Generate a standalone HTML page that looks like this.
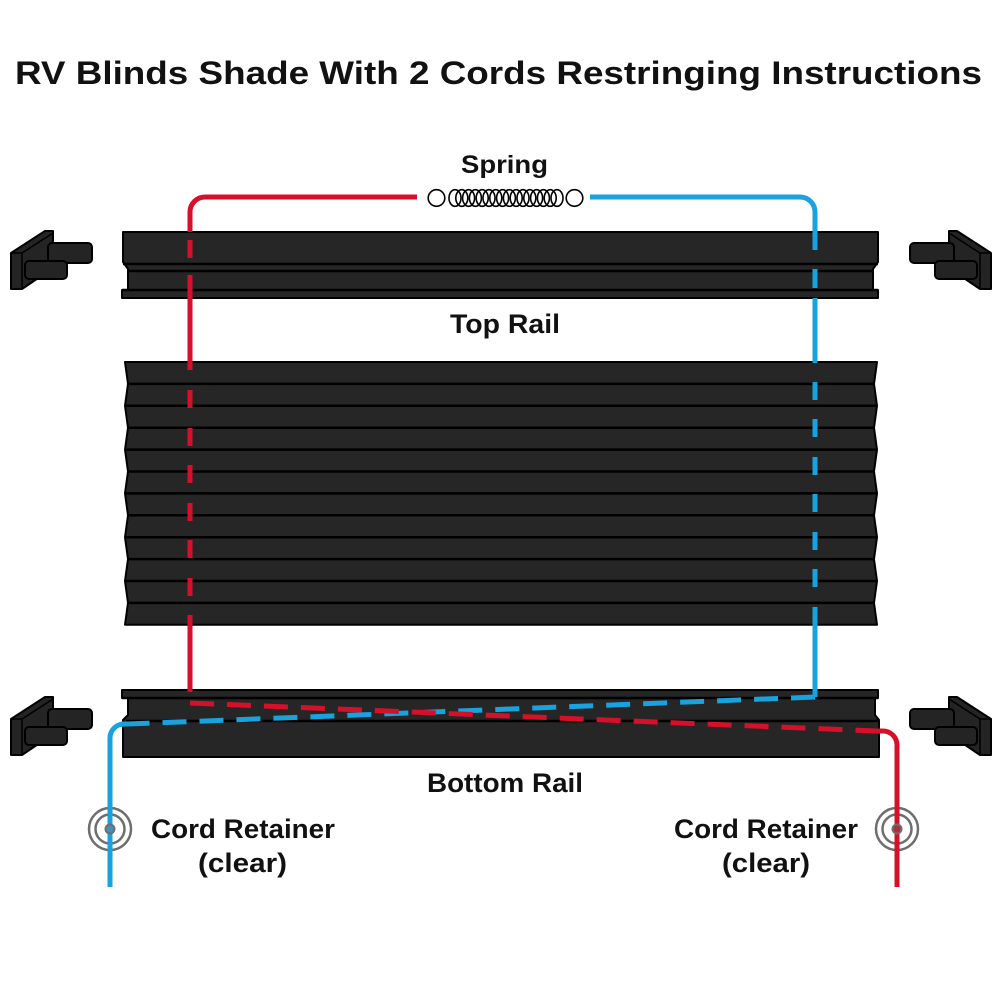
<!DOCTYPE html>
<html>
<head>
<meta charset="utf-8">
<style>
html,body{margin:0;padding:0;background:#fff;}
svg{display:block;}
text{font-family:"Liberation Sans",sans-serif;font-weight:bold;fill:#111;}
</style>
</head>
<body>
<svg width="1000" height="1000" viewBox="0 0 1000 1000" xmlns="http://www.w3.org/2000/svg">
<rect width="1000" height="1000" fill="#fff"/>

<!-- Title -->
<text x="15" y="84" font-size="32" textLength="967" lengthAdjust="spacingAndGlyphs">RV Blinds Shade With 2 Cords Restringing Instructions</text>

<!-- Labels -->
<text x="461" y="173" font-size="25" textLength="87" lengthAdjust="spacingAndGlyphs">Spring</text>
<text x="450" y="333" font-size="27" textLength="110" lengthAdjust="spacingAndGlyphs">Top Rail</text>
<text x="427" y="792" font-size="27" textLength="156" lengthAdjust="spacingAndGlyphs">Bottom Rail</text>
<text x="151" y="838" font-size="27" textLength="184" lengthAdjust="spacingAndGlyphs">Cord Retainer</text>
<text x="198" y="872" font-size="27" textLength="89" lengthAdjust="spacingAndGlyphs">(clear)</text>
<text x="674" y="838" font-size="27" textLength="184" lengthAdjust="spacingAndGlyphs">Cord Retainer</text>
<text x="722" y="872" font-size="27" textLength="88" lengthAdjust="spacingAndGlyphs">(clear)</text>

<!-- Brackets -->
<defs>
  <g id="br">
    <polygon points="11,253 45,231 53,231 53,268 22,289 11,289" fill="#242424" stroke="#000" stroke-width="2" stroke-linejoin="round"/>
    <line x1="22" y1="253" x2="22" y2="289" stroke="#000" stroke-width="1.5"/>
    <line x1="11" y1="253" x2="22" y2="253" stroke="#000" stroke-width="1.5"/>
    <line x1="22" y1="253" x2="53" y2="233" stroke="#000" stroke-width="1.5"/>
    <rect x="48" y="243" width="44" height="20" rx="4" fill="#242424" stroke="#000" stroke-width="2"/>
    <rect x="25" y="261" width="42" height="18" rx="4" fill="#242424" stroke="#000" stroke-width="2"/>
  </g>
</defs>
<use href="#br"/>
<use href="#br" transform="translate(0,466)"/>
<use href="#br" transform="translate(1002,0) scale(-1,1)"/>
<use href="#br" transform="translate(1002,466) scale(-1,1)"/>

<!-- Top rail -->
<path d="M123 232 H878 V262 L873 269 V290 H878 V298 H122 V290 H128 V269 L123 262 Z" fill="#262626" stroke="#000" stroke-width="2" stroke-linejoin="round"/>
<line x1="123" y1="264" x2="878" y2="264" stroke="#000" stroke-width="2.5"/>
<line x1="128" y1="271" x2="873" y2="271" stroke="#000" stroke-width="2.5"/>
<line x1="122" y1="290" x2="878" y2="290" stroke="#000" stroke-width="2.5"/>

<!-- Shade -->
<polygon points="125,362 877,362 874,383.9 877,405.8 874,427.7 877,449.6 874,471.5 877,493.4 874,515.3 877,537.2 874,559.1 877,581 874,602.9 877,624.8 125,624.8 128,602.9 125,581 128,559.1 125,537.2 128,515.3 125,493.4 128,471.5 125,449.6 128,427.7 125,405.8 128,383.9" fill="#262626" stroke="#000" stroke-width="2" stroke-linejoin="round"/>
<g stroke="#000" stroke-width="2.5">
  <line x1="128" y1="383.9" x2="874" y2="383.9"/>
  <line x1="125" y1="405.8" x2="877" y2="405.8"/>
  <line x1="128" y1="427.7" x2="874" y2="427.7"/>
  <line x1="125" y1="449.6" x2="877" y2="449.6"/>
  <line x1="128" y1="471.5" x2="874" y2="471.5"/>
  <line x1="125" y1="493.4" x2="877" y2="493.4"/>
  <line x1="128" y1="515.3" x2="874" y2="515.3"/>
  <line x1="125" y1="537.2" x2="877" y2="537.2"/>
  <line x1="128" y1="559.1" x2="874" y2="559.1"/>
  <line x1="125" y1="581" x2="877" y2="581"/>
  <line x1="128" y1="602.9" x2="874" y2="602.9"/>
</g>

<!-- Bottom rail -->
<path d="M122 690 H878 V698 H875 V715 L879 720 V757 H123 V720 L128 715 V698 H122 Z" fill="#262626" stroke="#000" stroke-width="2" stroke-linejoin="round"/>
<line x1="122" y1="698" x2="878" y2="698" stroke="#000" stroke-width="2.5"/>
<line x1="126" y1="721" x2="878" y2="721" stroke="#000" stroke-width="2.5"/>

<!-- Spring -->
<g fill="none" stroke="#000" stroke-width="1.6">
  <circle cx="436.5" cy="198" r="8.3"/>
  <circle cx="574.5" cy="198" r="8.3"/>
  <ellipse cx="455" cy="198" rx="6" ry="8.3"/>
  <ellipse cx="461.8" cy="198" rx="6" ry="8.3"/>
  <ellipse cx="468.6" cy="198" rx="6" ry="8.3"/>
  <ellipse cx="475.4" cy="198" rx="6" ry="8.3"/>
  <ellipse cx="482.2" cy="198" rx="6" ry="8.3"/>
  <ellipse cx="489" cy="198" rx="6" ry="8.3"/>
  <ellipse cx="495.8" cy="198" rx="6" ry="8.3"/>
  <ellipse cx="502.6" cy="198" rx="6" ry="8.3"/>
  <ellipse cx="509.4" cy="198" rx="6" ry="8.3"/>
  <ellipse cx="516.2" cy="198" rx="6" ry="8.3"/>
  <ellipse cx="523" cy="198" rx="6" ry="8.3"/>
  <ellipse cx="529.8" cy="198" rx="6" ry="8.3"/>
  <ellipse cx="536.6" cy="198" rx="6" ry="8.3"/>
  <ellipse cx="543.4" cy="198" rx="6" ry="8.3"/>
  <ellipse cx="550.2" cy="198" rx="6" ry="8.3"/>
  <ellipse cx="557" cy="198" rx="6" ry="8.3"/>
</g>

<!-- Red cord -->
<g fill="none" stroke="#d6102b" stroke-width="5">
  <path d="M417 197 H205 A15 15 0 0 0 190 212 V232"/>
  <line x1="190" y1="240" x2="190" y2="258"/>
  <line x1="190" y1="275" x2="190" y2="370"/>
  <line x1="190" y1="390" x2="190" y2="408"/>
  <line x1="190" y1="428" x2="190" y2="446"/>
  <line x1="190" y1="465" x2="190" y2="483"/>
  <line x1="190" y1="503" x2="190" y2="521"/>
  <line x1="190" y1="540" x2="190" y2="558"/>
  <line x1="190" y1="578" x2="190" y2="596"/>
  <line x1="190" y1="615" x2="190" y2="692"/>
</g>

<!-- Blue cord -->
<g fill="none" stroke="#18a2de" stroke-width="5">
  <path d="M590 197 H800 A15 15 0 0 1 815 212 V250"/>
  <line x1="815" y1="269" x2="815" y2="288"/>
  <line x1="815" y1="298" x2="815" y2="363"/>
  <line x1="815" y1="382" x2="815" y2="400"/>
  <line x1="815" y1="419" x2="815" y2="437"/>
  <line x1="815" y1="457" x2="815" y2="475"/>
  <line x1="815" y1="494" x2="815" y2="512"/>
  <line x1="815" y1="532" x2="815" y2="550"/>
  <line x1="815" y1="569" x2="815" y2="587"/>
  <line x1="815" y1="607" x2="815" y2="697"/>
</g>

<!-- Dashed cords in bottom rail -->
<line x1="815" y1="697" x2="128" y2="724" stroke="#18a2de" stroke-width="5" stroke-dasharray="24 13"/>
<line x1="190" y1="703" x2="876" y2="731" stroke="#d6102b" stroke-width="5" stroke-dasharray="24 13"/>

<!-- Cords going down -->
<path d="M128 724 H124 A14 14 0 0 0 110 738 V887" fill="none" stroke="#18a2de" stroke-width="5"/>
<path d="M872 731 H883 A14 14 0 0 1 897 745 V887" fill="none" stroke="#d6102b" stroke-width="5"/>

<!-- Cord retainers -->
<g fill="none" stroke="#6e6e6e" stroke-width="2.5">
  <circle cx="110" cy="829" r="21"/>
  <circle cx="110" cy="829" r="14.5"/>
  <circle cx="897" cy="829" r="21"/>
  <circle cx="897" cy="829" r="14.5"/>
</g>
<line x1="110" y1="800" x2="110" y2="860" stroke="#18a2de" stroke-width="5"/>
<line x1="897" y1="800" x2="897" y2="860" stroke="#d6102b" stroke-width="5"/>
<circle cx="110" cy="829" r="4.5" fill="#4a8fb5" stroke="#6e6e6e" stroke-width="2"/>
<circle cx="897" cy="829" r="4.5" fill="#a8323f" stroke="#6e6e6e" stroke-width="2"/>

</svg>
</body>
</html>
